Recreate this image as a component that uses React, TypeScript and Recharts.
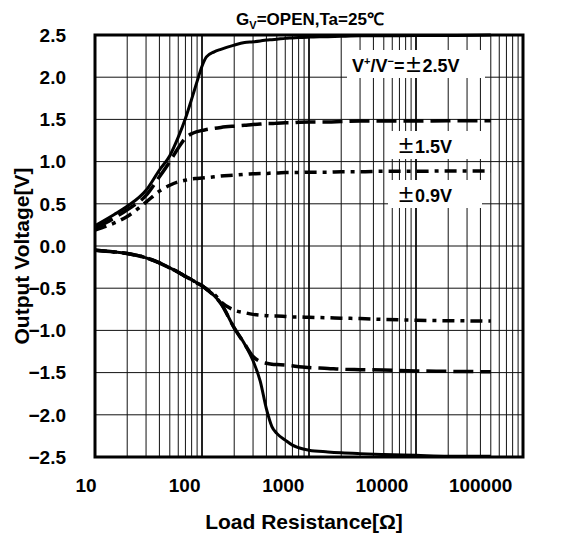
import { LineChart, Line, XAxis, YAxis, CartesianGrid, ReferenceLine, ReferenceArea } from 'recharts';

// load resistance [ohm] sample points
const resistance = [10, 15, 20, 30, 40, 50, 60, 70, 80, 90, 100, 110, 130, 150, 200, 250, 300, 350, 400, 450, 500, 600, 700, 800, 1000, 1500, 2000, 3000, 5000, 10000, 20000, 50000];

// output voltage, positive swing
const pos25 = [0.24, 0.37, 0.47, 0.66, 0.9, 1.07, 1.29, 1.51, 1.74, 1.95, 2.13, 2.24, 2.3, 2.33, 2.38, 2.41, 2.42, 2.43, 2.44, 2.445, 2.45, 2.46, 2.465, 2.47, 2.475, 2.48, 2.485, 2.49, 2.49, 2.495, 2.495, 2.5];
const pos15 = [0.21, 0.33, 0.43, 0.6, 0.82, 1.0, 1.16, 1.28, 1.33, 1.355, 1.37, 1.38, 1.395, 1.405, 1.42, 1.43, 1.44, 1.445, 1.45, 1.45, 1.455, 1.46, 1.46, 1.465, 1.47, 1.47, 1.475, 1.48, 1.48, 1.48, 1.485, 1.485];
const pos09 = [0.19, 0.27, 0.35, 0.52, 0.65, 0.72, 0.76, 0.78, 0.795, 0.8, 0.805, 0.81, 0.82, 0.83, 0.84, 0.85, 0.855, 0.86, 0.86, 0.865, 0.865, 0.87, 0.87, 0.87, 0.875, 0.875, 0.88, 0.88, 0.885, 0.885, 0.89, 0.89];

// output voltage, negative swing
const neg25 = [-0.05, -0.07, -0.09, -0.14, -0.2, -0.26, -0.31, -0.36, -0.4, -0.44, -0.47, -0.51, -0.59, -0.68, -0.97, -1.16, -1.36, -1.6, -1.93, -2.14, -2.22, -2.3, -2.36, -2.39, -2.42, -2.44, -2.45, -2.46, -2.47, -2.48, -2.49, -2.49];
const neg15 = [-0.05, -0.07, -0.09, -0.14, -0.2, -0.26, -0.31, -0.36, -0.4, -0.44, -0.47, -0.51, -0.59, -0.68, -0.97, -1.16, -1.31, -1.37, -1.39, -1.4, -1.405, -1.41, -1.42, -1.43, -1.44, -1.45, -1.46, -1.465, -1.47, -1.48, -1.485, -1.49];
const neg09 = [-0.05, -0.07, -0.09, -0.14, -0.2, -0.26, -0.31, -0.36, -0.4, -0.44, -0.47, -0.51, -0.57, -0.66, -0.76, -0.79, -0.81, -0.82, -0.825, -0.83, -0.83, -0.835, -0.84, -0.84, -0.845, -0.85, -0.855, -0.86, -0.87, -0.88, -0.885, -0.89];

const xGridTicks = [
  10, 20, 30, 40, 50, 60, 70, 80, 90,
  100, 200, 300, 400, 500, 600, 700, 800, 900,
  1000, 2000, 3000, 4000, 5000, 6000, 7000, 8000, 9000,
  10000, 20000, 30000, 40000, 50000, 60000, 70000, 80000, 90000,
  100000,
];
const xLabelTicks = [10, 100, 1000, 10000, 100000];
const decadeLines = [100, 1000, 10000];
const yTicks = [-2.5, -2.0, -1.5, -1.0, -0.5, 0, 0.5, 1.0, 1.5, 2.0, 2.5];
const yMinorTicks = [-2.25, -1.75, -1.25, -0.75, -0.25, 0.25, 0.75, 1.25, 1.75, 2.25];

const chartData = resistance.map((r, i) => ({
  r,
  pos25: pos25[i],
  pos15: pos15[i],
  pos09: pos09[i],
  neg25: neg25[i],
  neg15: neg15[i],
  neg09: neg09[i],
}));

const font = '"Liberation Sans", Arial, sans-serif';
const cjk = '"Noto Sans CJK JP", sans-serif';
const tickStyle = { fontFamily: font, fontWeight: 700, fontSize: 19, fill: '#000' };

const formatY = (v: number) => (v < 0 ? '\u2212' + Math.abs(v).toFixed(1) : v.toFixed(1));

// the original sheet prints its decade labels a little left of the grid lines
const XTick = (props: any) => {
  const { x, y, payload } = props;
  if (!xLabelTicks.includes(payload.value)) return null;
  const shifted = 86 + (x - 95) * 0.922;
  return (
    <text x={shifted} y={y} dy="0.71em" textAnchor="middle" {...tickStyle}>
      {payload.value}
    </text>
  );
};

const boxStyle = {
  position: 'absolute' as const,
  background: '#fff',
  fontFamily: font,
  fontWeight: 700,
  fontSize: 18,
  color: '#000',
  lineHeight: '28px',
  height: 28,
  whiteSpace: 'nowrap' as const,
  boxSizing: 'border-box' as const,
};

const PlusMinus = () => <span style={{ fontFamily: cjk, fontWeight: 700 }}>±</span>;

export default function App() {
  return (
    <div style={{ position: 'absolute', left: 0, top: 0, width: 566, height: 538, background: '#fff' }}>
      <LineChart width={566} height={538} data={chartData} margin={{ top: 35, right: 43, bottom: 6, left: 25 }}>
        <CartesianGrid stroke="#111" strokeWidth={1} />
        <XAxis
          dataKey="r"
          type="number"
          scale="log"
          domain={[10, 100000]}
          allowDataOverflow
          ticks={xGridTicks}
          interval={0}
          tick={<XTick />}
          tickLine={false}
          axisLine={false}
          tickSize={0}
          tickMargin={22}
          height={75}
        />
        <YAxis
          type="number"
          domain={[-2.5, 2.5]}
          ticks={yTicks}
          interval={0}
          tickFormatter={formatY}
          tick={tickStyle}
          tickLine={false}
          axisLine={false}
          tickSize={0}
          tickMargin={29}
          width={70}
        />
        <YAxis
          yAxisId="minor"
          type="number"
          domain={[-2.5, 2.5]}
          ticks={yMinorTicks}
          interval={0}
          mirror
          width={0}
          tick={false}
          axisLine={false}
          tickLine={{ stroke: '#000', strokeWidth: 1 }}
          tickSize={6}
        />
        {decadeLines.map((x) => (
          <ReferenceLine key={x} x={x} stroke="#000" strokeWidth={1.5} />
        ))}
        <ReferenceArea x1={10} x2={100000} y1={-2.5} y2={2.5} fill="none" stroke="#000" strokeWidth={3} />
        <Line type="monotone" dataKey="pos25" stroke="#000" strokeWidth={3} dot={false} isAnimationActive={false} />
        <Line type="monotone" dataKey="pos15" stroke="#000" strokeWidth={3.5} strokeDasharray="20 7" dot={false} isAnimationActive={false} />
        <Line type="monotone" dataKey="pos09" stroke="#000" strokeWidth={3.5} strokeDasharray="12 6 4 6" dot={false} isAnimationActive={false} />
        <Line type="monotone" dataKey="neg09" stroke="#000" strokeWidth={3.5} strokeDasharray="12 6 4 6" dot={false} isAnimationActive={false} />
        <Line type="monotone" dataKey="neg15" stroke="#000" strokeWidth={3.5} strokeDasharray="20 7" dot={false} isAnimationActive={false} />
        <Line type="monotone" dataKey="neg25" stroke="#000" strokeWidth={3} dot={false} isAnimationActive={false} />
      </LineChart>

      {/* title */}
      <div
        style={{
          position: 'absolute',
          left: 310,
          top: 19,
          transform: 'translate(-50%, -50%)',
          fontFamily: font,
          fontWeight: 700,
          fontSize: 17,
          whiteSpace: 'nowrap',
        }}
      >
        G<sub style={{ fontSize: 11 }}>V</sub>=OPEN,Ta=25℃
      </div>

      {/* axis titles */}
      <div
        style={{
          position: 'absolute',
          left: 304,
          top: 522,
          transform: 'translate(-50%, -50%)',
          fontFamily: font,
          fontWeight: 700,
          fontSize: 21,
          whiteSpace: 'nowrap',
        }}
      >
        Load Resistance[Ω]
      </div>
      <div
        style={{
          position: 'absolute',
          left: 22,
          top: 256,
          transform: 'translate(-50%, -50%) rotate(-90deg)',
          fontFamily: font,
          fontWeight: 700,
          fontSize: 21,
          whiteSpace: 'nowrap',
        }}
      >
        Output Voltage[V]
      </div>

      {/* series labels */}
      <div style={{ ...boxStyle, left: 347, top: 50, width: 138, paddingLeft: 5 }}>
        V<sup style={{ fontSize: 11, lineHeight: 0 }}>+</sup>/V<sup style={{ fontSize: 11, lineHeight: 0 }}>−</sup>=<PlusMinus />2.5V
      </div>
      <div style={{ ...boxStyle, left: 388, top: 131, width: 94, paddingLeft: 9 }}>
        <PlusMinus />1.5V
      </div>
      <div style={{ ...boxStyle, left: 388, top: 180, width: 94, paddingLeft: 9 }}>
        <PlusMinus />0.9V
      </div>
    </div>
  );
}
